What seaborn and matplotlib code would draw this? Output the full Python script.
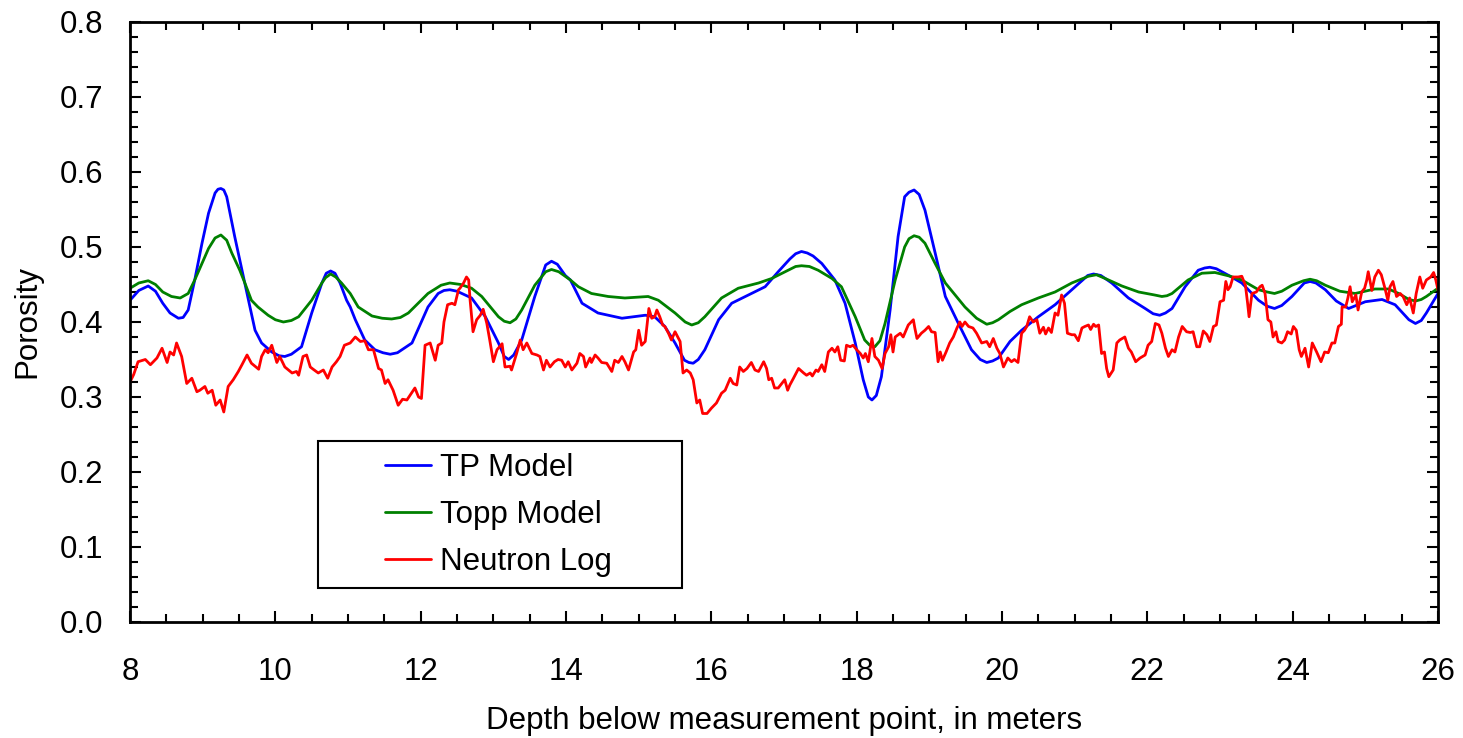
import matplotlib
matplotlib.use("Agg")
import matplotlib.pyplot as plt
from matplotlib.ticker import MultipleLocator, FormatStrFormatter
from matplotlib.patches import Rectangle
import seaborn as sns
import pandas as pd

# ---- data ----
tp_depth = [8.00, 8.12, 8.25, 8.35, 8.45, 8.55, 8.665, 8.73, 8.80, 8.89, 8.99, 9.08, 9.17, 9.21,
            9.25, 9.29, 9.33, 9.44, 9.54, 9.63, 9.72, 9.81, 9.95, 10.05, 10.13, 10.22, 10.36,
            10.50, 10.64, 10.70, 10.76, 10.82, 10.89, 10.98, 11.03, 11.10, 11.23, 11.37, 11.48,
            11.58, 11.68, 11.88, 12.10, 12.24, 12.32, 12.40, 12.50, 12.70, 12.89, 13.07, 13.15,
            13.21, 13.28, 13.39, 13.57, 13.72, 13.80, 13.88, 13.99, 14.06, 14.22, 14.44, 14.77,
            15.09, 15.22, 15.36, 15.50, 15.63, 15.69, 15.75, 15.82, 15.91, 16.10, 16.28, 16.51,
            16.74, 16.92, 17.08, 17.16, 17.24, 17.32, 17.40, 17.52, 17.70, 17.84, 17.98, 18.09,
            18.16, 18.21, 18.27, 18.34, 18.46, 18.57, 18.66, 18.72, 18.79, 18.86, 18.94, 19.08,
            19.22, 19.40, 19.58, 19.70, 19.79, 19.87, 19.95, 20.11, 20.27, 20.50, 20.73, 20.96,
            21.18, 21.26, 21.36, 21.51, 21.74, 21.97, 22.08, 22.17, 22.25, 22.34, 22.52, 22.70,
            22.79, 22.86, 22.95, 23.14, 23.30, 23.53, 23.65, 23.75, 23.85, 23.99, 24.16, 24.24,
            24.32, 24.45, 24.60, 24.77, 25.00, 25.23, 25.41, 25.60, 25.69, 25.77, 25.84, 26.00]
tp_value = [0.429, 0.442, 0.448, 0.441, 0.425, 0.412, 0.405, 0.406, 0.416, 0.456, 0.505, 0.545,
            0.572, 0.577, 0.578, 0.576, 0.567, 0.514, 0.469, 0.429, 0.389, 0.372, 0.360, 0.355,
            0.354, 0.357, 0.367, 0.412, 0.452, 0.465, 0.468, 0.465, 0.452, 0.429, 0.420, 0.403,
            0.376, 0.363, 0.359, 0.357, 0.359, 0.372, 0.420, 0.438, 0.442, 0.443, 0.441, 0.432,
            0.407, 0.372, 0.354, 0.350, 0.356, 0.376, 0.434, 0.476, 0.481, 0.477, 0.462, 0.456,
            0.425, 0.412, 0.405, 0.409, 0.407, 0.394, 0.372, 0.349, 0.346, 0.345, 0.350, 0.363,
            0.403, 0.425, 0.436, 0.447, 0.467, 0.484, 0.491, 0.494, 0.492, 0.488, 0.478, 0.456,
            0.425, 0.372, 0.323, 0.300, 0.296, 0.302, 0.327, 0.416, 0.514, 0.567, 0.573, 0.576,
            0.570, 0.549, 0.492, 0.434, 0.398, 0.363, 0.350, 0.346, 0.348, 0.352, 0.374, 0.389,
            0.407, 0.423, 0.443, 0.462, 0.464, 0.462, 0.452, 0.432, 0.418, 0.411, 0.409, 0.412,
            0.418, 0.447, 0.469, 0.472, 0.473, 0.471, 0.461, 0.452, 0.429, 0.421, 0.418, 0.422,
            0.434, 0.452, 0.454, 0.452, 0.443, 0.428, 0.418, 0.427, 0.430, 0.423, 0.403, 0.398,
            0.402, 0.412, 0.438]

topp_depth = [8.00, 8.12, 8.25, 8.35, 8.45, 8.57, 8.69, 8.80, 8.89, 9.08, 9.17, 9.25, 9.33, 9.40,
              9.51, 9.58, 9.67, 9.76, 9.90, 10.00, 10.11, 10.22, 10.32, 10.50, 10.64, 10.69, 10.76,
              10.83, 10.91, 11.03, 11.14, 11.33, 11.47, 11.60, 11.72, 11.83, 12.10, 12.28, 12.40,
              12.55, 12.70, 12.84, 13.07, 13.15, 13.23, 13.31, 13.39, 13.57, 13.72, 13.80, 13.90,
              14.06, 14.17, 14.35, 14.58, 14.81, 15.13, 15.27, 15.50, 15.64, 15.73, 15.82, 15.91,
              16.14, 16.37, 16.65, 16.83, 17.08, 17.16, 17.24, 17.35, 17.47, 17.66, 17.79, 17.98,
              18.11, 18.18, 18.25, 18.32, 18.39, 18.53, 18.66, 18.72, 18.79, 18.86, 18.94, 19.08,
              19.22, 19.49, 19.65, 19.79, 19.87, 19.95, 20.11, 20.27, 20.50, 20.73, 20.96, 21.19,
              21.30, 21.42, 21.65, 21.88, 22.10, 22.20, 22.27, 22.34, 22.56, 22.75, 22.93, 23.14,
              23.30, 23.53, 23.65, 23.75, 23.85, 23.99, 24.15, 24.24, 24.33, 24.45, 24.65, 24.86,
              25.13, 25.32, 25.46, 25.60, 25.69, 25.77, 25.84, 26.00]
topp_value = [0.445, 0.452, 0.455, 0.450, 0.440, 0.434, 0.432, 0.438, 0.456, 0.498, 0.512, 0.516,
              0.509, 0.492, 0.469, 0.452, 0.429, 0.420, 0.409, 0.403, 0.400, 0.402, 0.407, 0.429,
              0.452, 0.459, 0.464, 0.460, 0.452, 0.438, 0.420, 0.408, 0.405, 0.404, 0.406, 0.412,
              0.438, 0.449, 0.452, 0.450, 0.445, 0.434, 0.407, 0.401, 0.399, 0.404, 0.416, 0.449,
              0.467, 0.470, 0.467, 0.456, 0.447, 0.438, 0.434, 0.432, 0.434, 0.429, 0.412, 0.400,
              0.396, 0.399, 0.407, 0.432, 0.445, 0.452, 0.458, 0.470, 0.474, 0.475, 0.474, 0.469,
              0.458, 0.447, 0.407, 0.376, 0.369, 0.367, 0.375, 0.398, 0.456, 0.500, 0.511, 0.515,
              0.513, 0.505, 0.478, 0.452, 0.420, 0.405, 0.397, 0.399, 0.403, 0.414, 0.423, 0.432,
              0.440, 0.452, 0.461, 0.463, 0.458, 0.448, 0.440, 0.436, 0.434, 0.435, 0.438, 0.456,
              0.465, 0.466, 0.461, 0.456, 0.443, 0.440, 0.438, 0.441, 0.449, 0.455, 0.457, 0.455,
              0.449, 0.441, 0.438, 0.444, 0.444, 0.438, 0.430, 0.428, 0.430, 0.434, 0.445]

neutron_depth = [8.00, 8.05, 8.11, 8.21, 8.28, 8.37, 8.44, 8.51, 8.55, 8.60, 8.64, 8.71, 8.78, 8.85,
                 8.92, 8.96, 9.03, 9.07, 9.13, 9.18, 9.24, 9.29, 9.35, 9.42, 9.49, 9.54, 9.61, 9.67,
                 9.77, 9.81, 9.86, 9.90, 9.95, 10.02, 10.06, 10.13, 10.23, 10.29, 10.32, 10.38, 10.43,
                 10.48, 10.52, 10.59, 10.66, 10.72, 10.78, 10.84, 10.89, 10.95, 11.03, 11.10, 11.17,
                 11.23, 11.28, 11.35, 11.42, 11.46, 11.51, 11.55, 11.62, 11.69, 11.75, 11.81, 11.92,
                 11.97, 12.01, 12.06, 12.13, 12.20, 12.24, 12.29, 12.32, 12.37, 12.43, 12.47, 12.52,
                 12.54, 12.59, 12.63, 12.66, 12.68, 12.72, 12.77, 12.82, 12.86, 12.91, 12.95, 13.00,
                 13.05, 13.12, 13.16, 13.23, 13.25, 13.32, 13.37, 13.41, 13.46, 13.53, 13.60, 13.64,
                 13.69, 13.73, 13.78, 13.84, 13.89, 13.94, 13.99, 14.03, 14.08, 14.15, 14.19, 14.24,
                 14.27, 14.33, 14.35, 14.40, 14.44, 14.49, 14.56, 14.63, 14.67, 14.72, 14.77, 14.81,
                 14.86, 14.93, 14.96, 15.00, 15.04, 15.09, 15.14, 15.18, 15.22, 15.25, 15.29, 15.33,
                 15.36, 15.41, 15.45, 15.50, 15.57, 15.61, 15.66, 15.71, 15.75, 15.80, 15.84, 15.88,
                 15.94, 16.00, 16.07, 16.14, 16.19, 16.26, 16.30, 16.35, 16.39, 16.44, 16.49, 16.55,
                 16.60, 16.65, 16.72, 16.76, 16.79, 16.83, 16.87, 16.92, 16.97, 17.01, 17.05, 17.08,
                 17.13, 17.20, 17.27, 17.31, 17.36, 17.39, 17.44, 17.47, 17.52, 17.56, 17.61, 17.66,
                 17.70, 17.74, 17.78, 17.83, 17.86, 17.91, 17.95, 18.00, 18.05, 18.09, 18.12, 18.16,
                 18.21, 18.25, 18.30, 18.35, 18.39, 18.44, 18.47, 18.50, 18.53, 18.60, 18.64, 18.71,
                 18.78, 18.80, 18.83, 18.89, 18.94, 18.99, 19.03, 19.08, 19.12, 19.15, 19.18, 19.23,
                 19.28, 19.33, 19.38, 19.42, 19.45, 19.49, 19.54, 19.60, 19.65, 19.72, 19.79, 19.83,
                 19.88, 19.93, 19.97, 20.02, 20.08, 20.13, 20.17, 20.22, 20.27, 20.31, 20.34, 20.38,
                 20.43, 20.48, 20.52, 20.57, 20.60, 20.64, 20.68, 20.73, 20.77, 20.82, 20.86, 20.90,
                 20.96, 21.00, 21.05, 21.10, 21.14, 21.19, 21.22, 21.26, 21.29, 21.33, 21.37, 21.41,
                 21.44, 21.47, 21.53, 21.58, 21.62, 21.69, 21.74, 21.78, 21.84, 21.90, 21.97, 22.01,
                 22.06, 22.11, 22.16, 22.20, 22.25, 22.29, 22.34, 22.38, 22.43, 22.48, 22.54, 22.59,
                 22.63, 22.68, 22.72, 22.77, 22.82, 22.86, 22.91, 22.95, 23.00, 23.05, 23.08, 23.11,
                 23.14, 23.18, 23.25, 23.30, 23.35, 23.38, 23.40, 23.44, 23.50, 23.55, 23.58, 23.62,
                 23.66, 23.70, 23.73, 23.77, 23.80, 23.85, 23.89, 23.93, 23.98, 24.01, 24.05, 24.09,
                 24.12, 24.17, 24.22, 24.27, 24.33, 24.39, 24.44, 24.49, 24.54, 24.58, 24.63, 24.67,
                 24.68, 24.73, 24.76, 24.79, 24.82, 24.87, 24.90, 24.95, 24.99, 25.02, 25.04, 25.09,
                 25.13, 25.18, 25.22, 25.27, 25.31, 25.34, 25.38, 25.43, 25.48, 25.52, 25.57, 25.61,
                 25.66, 25.70, 25.75, 25.79, 25.84, 25.90, 25.94, 25.97, 26.00]
neutron_value = [0.320, 0.330, 0.347, 0.350, 0.343, 0.352, 0.365, 0.346, 0.360, 0.356, 0.372, 0.354,
                 0.318, 0.325, 0.307, 0.309, 0.314, 0.305, 0.309, 0.289, 0.296, 0.280, 0.314, 0.323,
                 0.334, 0.343, 0.356, 0.345, 0.337, 0.354, 0.363, 0.359, 0.369, 0.346, 0.354, 0.340,
                 0.332, 0.334, 0.329, 0.354, 0.356, 0.340, 0.337, 0.332, 0.336, 0.325, 0.340, 0.347,
                 0.354, 0.369, 0.372, 0.380, 0.374, 0.375, 0.363, 0.363, 0.338, 0.336, 0.318, 0.323,
                 0.309, 0.289, 0.297, 0.296, 0.312, 0.300, 0.298, 0.369, 0.372, 0.349, 0.369, 0.372,
                 0.400, 0.423, 0.425, 0.423, 0.443, 0.445, 0.452, 0.460, 0.456, 0.429, 0.387, 0.403,
                 0.409, 0.417, 0.398, 0.376, 0.347, 0.363, 0.371, 0.340, 0.341, 0.336, 0.358, 0.376,
                 0.363, 0.372, 0.358, 0.356, 0.354, 0.336, 0.349, 0.340, 0.347, 0.350, 0.349, 0.340,
                 0.347, 0.336, 0.345, 0.358, 0.354, 0.340, 0.352, 0.346, 0.356, 0.352, 0.346, 0.345,
                 0.334, 0.349, 0.346, 0.354, 0.347, 0.336, 0.360, 0.363, 0.389, 0.369, 0.374, 0.418,
                 0.405, 0.407, 0.416, 0.407, 0.396, 0.394, 0.385, 0.376, 0.387, 0.374, 0.332, 0.336,
                 0.332, 0.323, 0.292, 0.296, 0.278, 0.278, 0.285, 0.292, 0.305, 0.309, 0.325, 0.318,
                 0.316, 0.340, 0.334, 0.338, 0.346, 0.336, 0.334, 0.347, 0.338, 0.323, 0.325, 0.312,
                 0.312, 0.318, 0.323, 0.309, 0.316, 0.325, 0.338, 0.332, 0.329, 0.332, 0.328, 0.336,
                 0.334, 0.343, 0.334, 0.360, 0.365, 0.360, 0.367, 0.349, 0.348, 0.369, 0.367, 0.369,
                 0.363, 0.358, 0.352, 0.358, 0.347, 0.378, 0.354, 0.349, 0.338, 0.358, 0.367, 0.383,
                 0.360, 0.380, 0.385, 0.380, 0.396, 0.403, 0.392, 0.378, 0.385, 0.389, 0.394, 0.387,
                 0.386, 0.347, 0.360, 0.349, 0.360, 0.372, 0.380, 0.392, 0.400, 0.394, 0.400, 0.394,
                 0.392, 0.385, 0.372, 0.374, 0.367, 0.378, 0.365, 0.358, 0.340, 0.352, 0.347, 0.350,
                 0.346, 0.385, 0.389, 0.394, 0.407, 0.400, 0.403, 0.385, 0.393, 0.384, 0.392, 0.386,
                 0.412, 0.409, 0.436, 0.425, 0.385, 0.383, 0.383, 0.375, 0.392, 0.394, 0.396, 0.390,
                 0.397, 0.394, 0.396, 0.358, 0.360, 0.338, 0.327, 0.336, 0.372, 0.376, 0.380, 0.365,
                 0.360, 0.347, 0.352, 0.356, 0.369, 0.374, 0.398, 0.396, 0.385, 0.365, 0.354, 0.363,
                 0.360, 0.380, 0.394, 0.387, 0.386, 0.387, 0.367, 0.367, 0.388, 0.383, 0.374, 0.394,
                 0.396, 0.427, 0.429, 0.454, 0.443, 0.447, 0.460, 0.460, 0.461, 0.449, 0.425, 0.407,
                 0.438, 0.440, 0.447, 0.449, 0.438, 0.403, 0.400, 0.380, 0.387, 0.374, 0.372, 0.376,
                 0.387, 0.384, 0.394, 0.389, 0.363, 0.354, 0.365, 0.340, 0.372, 0.360, 0.347, 0.360,
                 0.359, 0.372, 0.372, 0.394, 0.397, 0.420, 0.420, 0.432, 0.447, 0.427, 0.436, 0.416,
                 0.440, 0.445, 0.456, 0.467, 0.442, 0.460, 0.469, 0.463, 0.445, 0.429, 0.447, 0.454,
                 0.434, 0.438, 0.434, 0.423, 0.432, 0.412, 0.438, 0.460, 0.445, 0.456, 0.460, 0.466,
                 0.456, 0.443]

series_names = ["TP Model", "Topp Model", "Neutron Log"]
series_colors = ["#0000ff", "#008000", "#ff0000"]
x_label = "Depth below measurement point, in meters"
y_label = "Porosity"

# ---- build tidy frames ----
frames = [
    pd.DataFrame({"depth": tp_depth, "porosity": tp_value}),
    pd.DataFrame({"depth": topp_depth, "porosity": topp_value}),
    pd.DataFrame({"depth": neutron_depth, "porosity": neutron_value}),
]

sns.set_theme(style="ticks")
plt.rcParams["font.family"] = ["Liberation Sans", "DejaVu Sans"]
plt.rcParams["text.color"] = "black"
plt.rcParams["axes.labelcolor"] = "black"
plt.rcParams["xtick.color"] = "black"
plt.rcParams["ytick.color"] = "black"

FS = 22.5
LW = 2.0

fig = plt.figure(figsize=(14.63, 7.38), dpi=100)
ax = fig.add_axes([0.0889, 0.1572, 0.894, 0.8130])

for df, name, col in zip(frames, series_names, series_colors):
    sns.lineplot(data=df, x="depth", y="porosity", ax=ax, color=col, label=name,
                 linewidth=LW, estimator=None, sort=True, solid_joinstyle="round")

ax.set_xlim(8, 26)
ax.set_ylim(0, 0.8)
ax.xaxis.set_major_locator(MultipleLocator(2))
ax.xaxis.set_minor_locator(MultipleLocator(0.5))
ax.yaxis.set_major_locator(MultipleLocator(0.1))
ax.yaxis.set_minor_locator(MultipleLocator(0.02))
ax.yaxis.set_major_formatter(FormatStrFormatter("%.1f"))
ax.xaxis.set_major_formatter(FormatStrFormatter("%d"))

ax.tick_params(which="both", direction="in", top=True, right=True, colors="black",
               labelcolor="black", labelsize=FS)
ax.tick_params(which="major", length=8, width=1.5)
ax.tick_params(which="minor", length=5.5, width=1.5)
ax.tick_params(axis="x", which="major", pad=25)
ax.tick_params(axis="y", which="major", pad=19.5)
for s in ax.spines.values():
    s.set_linewidth(2)
    s.set_color("black")
    s.set_visible(True)

ax.set_xlabel(x_label, fontsize=FS, labelpad=14, color="black")
ax.set_ylabel(y_label, fontsize=FS, labelpad=12, color="black")

# legend frame box
box = Rectangle((0.1437, 0.0567), 0.2783, 0.2450, transform=ax.transAxes,
                facecolor="white", edgecolor="black", linewidth=1.5, zorder=4)
ax.add_patch(box)
leg = ax.legend(loc="center left", bbox_to_anchor=(0.195, 0.178), frameon=False,
                fontsize=FS, borderpad=0, labelspacing=0.55, handlelength=1.47,
                handletextpad=0.3, borderaxespad=0)
leg.set_zorder(5)
for line in leg.get_lines():
    line.set_linewidth(LW)

fig.savefig("out.png", dpi=100)
